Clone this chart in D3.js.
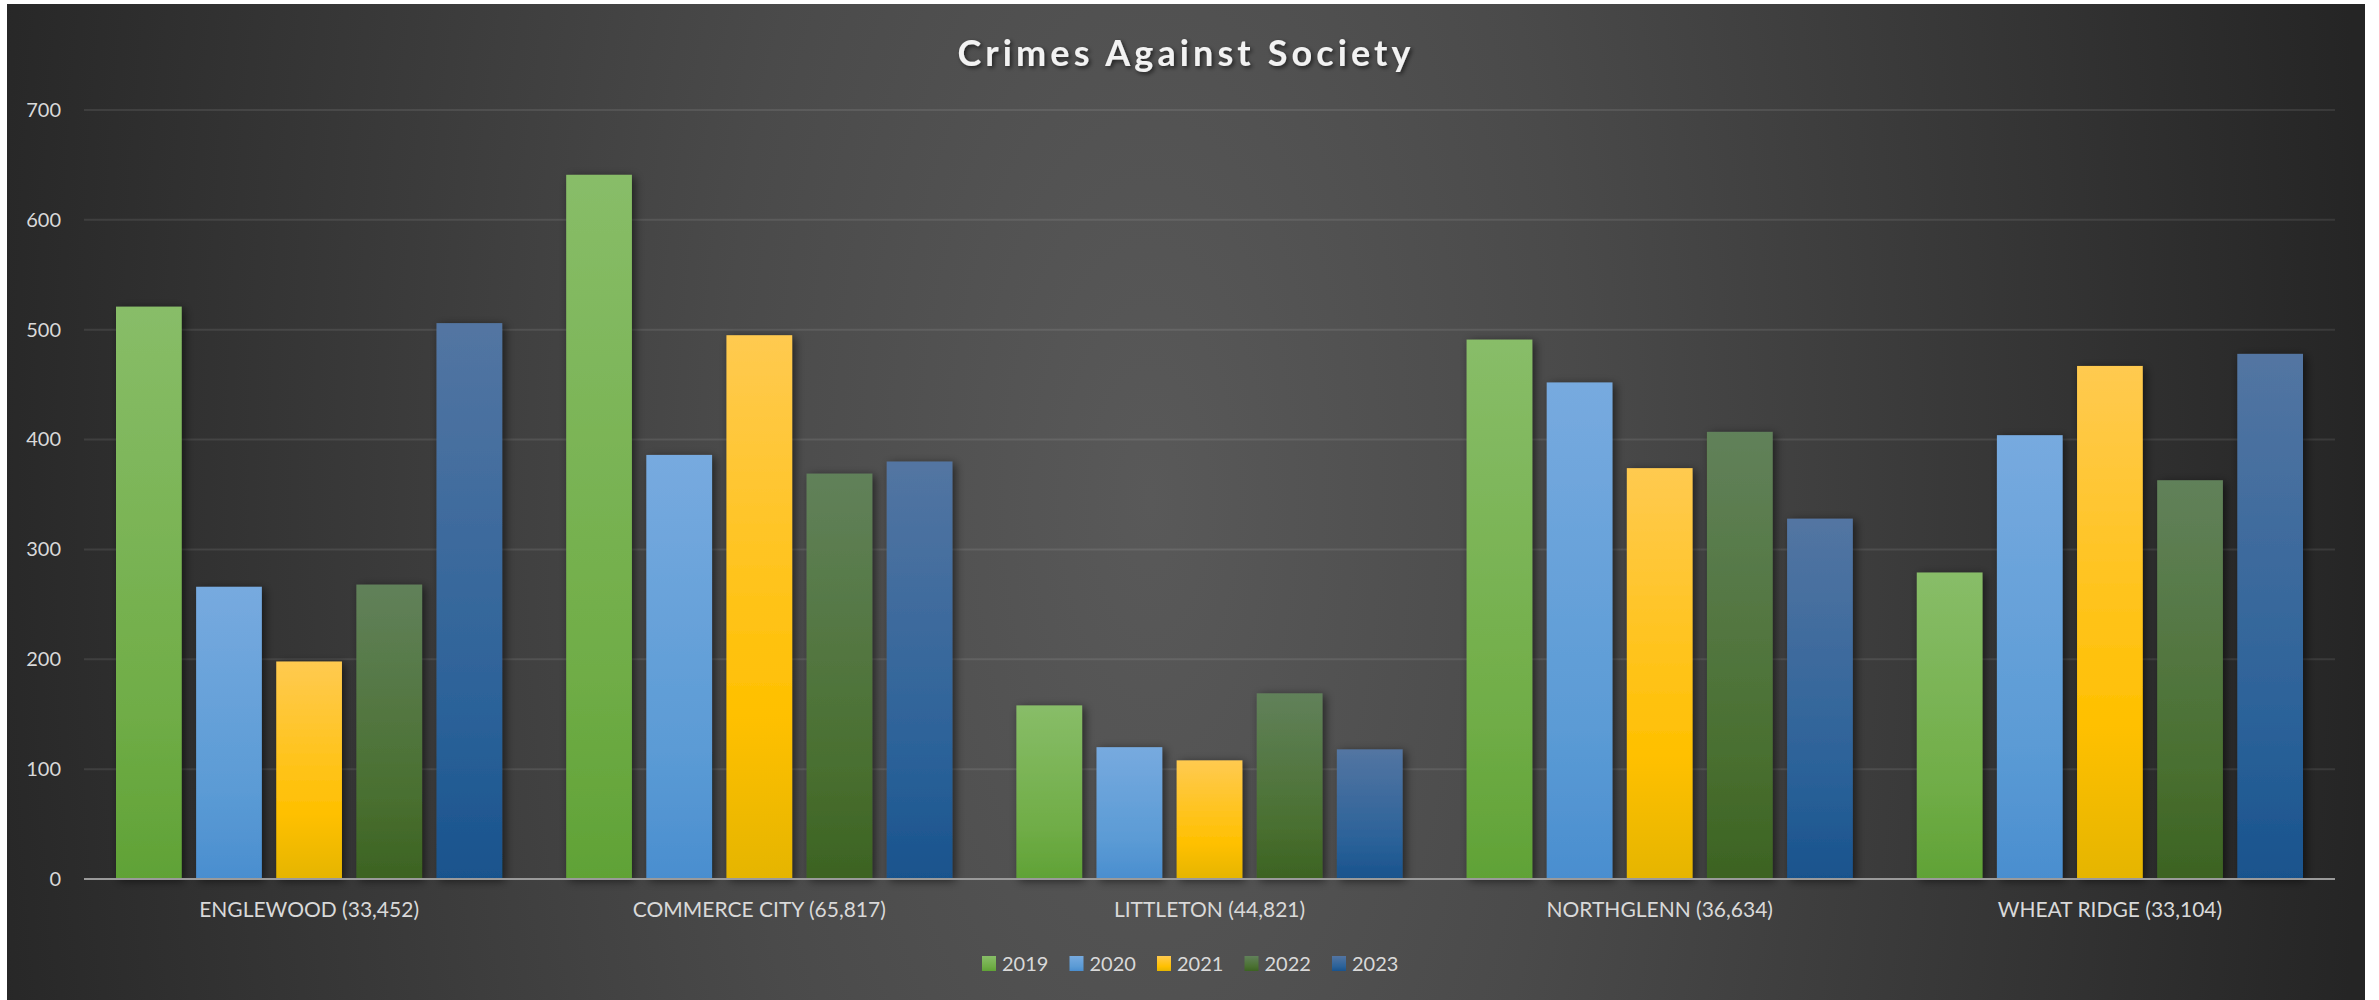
<!DOCTYPE html>
<html>
<head>
<meta charset="utf-8">
<script src="https://cdn.jsdelivr.net/npm/d3@7"></script>
<style>
  html, body { margin: 0; padding: 0; background: #ffffff; }
  svg { display: block; }
  text { font-family: Lato, "Open Sans", sans-serif; }
</style>
</head>
<body>
<svg id="chart" width="2379" height="1000"></svg>
<script>
// Cities with population, reported yearly counts
const categories = [
  "ENGLEWOOD (33,452)",
  "COMMERCE CITY (65,817)",
  "LITTLETON (44,821)",
  "NORTHGLENN (36,634)",
  "WHEAT RIDGE (33,104)"
];
const years = ["2019", "2020", "2021", "2022", "2023"];
const values2019 = [521, 641, 158, 491, 279];
const values2020 = [266, 386, 120, 452, 404];
const values2021 = [198, 495, 108, 374, 467];
const values2022 = [268, 369, 169, 407, 363];
const values2023 = [506, 380, 118, 328, 478];
const yTicks = [0, 100, 200, 300, 400, 500, 600, 700];
const titleText = "Crimes Against Society";

const seriesValues = [values2019, values2020, values2021, values2022, values2023];

// top / middle / bottom gradient stops per year
const seriesColors = [
  ["#88bd68", "#70ad47", "#60a236"],
  ["#77aadf", "#5b9bd5", "#4a8ecf"],
  ["#ffca50", "#ffc000", "#e5b500"],
  ["#61815a", "#4a7031", "#3c6322"],
  ["#5375a2", "#2b6299", "#19538d"]
];

const svg = d3.select("#chart");
const defs = svg.append("defs");

// chart panel background
const bg = defs.append("radialGradient")
  .attr("id", "bgGrad")
  .attr("gradientUnits", "userSpaceOnUse")
  .attr("cx", 1150).attr("cy", 500).attr("r", 1220)
  .attr("gradientTransform", "translate(1150,500) scale(1,2.2) translate(-1150,-500)");
bg.append("stop").attr("offset", 0).attr("stop-color", "#595959");
bg.append("stop").attr("offset", 0.35).attr("stop-color", "#4a4a4a");
bg.append("stop").attr("offset", 1).attr("stop-color", "#252525");

seriesColors.forEach((c, i) => {
  const g = defs.append("linearGradient")
    .attr("id", "bar" + i)
    .attr("x1", 0).attr("y1", 0).attr("x2", 0).attr("y2", 1);
  g.append("stop").attr("offset", 0).attr("stop-color", c[0]);
  g.append("stop").attr("offset", 0.7).attr("stop-color", c[1]);
  g.append("stop").attr("offset", 1).attr("stop-color", c[2]);
});

const shadow = defs.append("filter").attr("id", "barShadow")
  .attr("x", "-30%").attr("y", "-10%").attr("width", "160%").attr("height", "120%");
shadow.append("feDropShadow")
  .attr("dx", 3).attr("dy", 2).attr("stdDeviation", 5)
  .attr("flood-color", "#000").attr("flood-opacity", 0.55);

const titleShadow = defs.append("filter").attr("id", "titleShadow")
  .attr("x", "-10%").attr("y", "-30%").attr("width", "120%").attr("height", "160%");
titleShadow.append("feDropShadow")
  .attr("dx", 2).attr("dy", 2).attr("stdDeviation", 2)
  .attr("flood-color", "#000").attr("flood-opacity", 0.6);

svg.append("rect")
  .attr("x", 7).attr("y", 4).attr("width", 2358).attr("height", 996)
  .attr("fill", "url(#bgGrad)");

const plot = { left: 84, right: 2335, top: 110, bottom: 879 };

const x0 = d3.scaleBand().domain(categories).range([plot.left, plot.right]).padding(0);
const x1 = d3.scaleBand().domain(years)
  .range([32, x0.bandwidth() - 32])
  .paddingInner(0.18).paddingOuter(0);
const y = d3.scaleLinear().domain([0, 700]).range([plot.bottom, plot.top]);

// gridlines
svg.append("g").selectAll("line")
  .data(yTicks.filter(t => t > 0))
  .join("line")
  .attr("x1", plot.left).attr("x2", plot.right)
  .attr("y1", d => y(d)).attr("y2", d => y(d))
  .attr("stroke", "rgba(255,255,255,0.09)")
  .attr("stroke-width", 2);

// y axis labels
const yAxis = d3.axisLeft(y).tickValues(yTicks).tickSize(0).tickPadding(0);
const yG = svg.append("g").attr("transform", `translate(${plot.left - 23},0)`).call(yAxis);
yG.select(".domain").remove();
yG.selectAll("text")
  .attr("fill", "#d9d9d9")
  .style("font-size", "20px")
  .style("font-family", "Lato, 'Open Sans', sans-serif");

// bars
const groups = svg.append("g").selectAll("g")
  .data(categories)
  .join("g")
  .attr("transform", d => `translate(${x0(d)},0)`);

groups.selectAll("rect")
  .data((d, ci) => years.map((yr, si) => ({ yr, si, v: seriesValues[si][ci] })))
  .join("rect")
  .attr("x", d => x1(d.yr))
  .attr("width", x1.bandwidth())
  .attr("y", d => y(d.v))
  .attr("height", d => y(0) - y(d.v))
  .attr("fill", d => `url(#bar${d.si})`)
  .attr("filter", "url(#barShadow)");

// x axis line
svg.append("line")
  .attr("x1", plot.left).attr("x2", plot.right)
  .attr("y1", y(0)).attr("y2", y(0))
  .attr("stroke", "#9a9a9a").attr("stroke-width", 2);

// category labels
const xAxis = d3.axisBottom(x0).tickSize(0).tickPadding(0);
const xG = svg.append("g").attr("transform", `translate(0,${y(0) + 23})`).call(xAxis);
xG.select(".domain").remove();
xG.selectAll("text")
  .attr("fill", "#d9d9d9")
  .attr("dy", "0.72em")
  .style("font-size", "21px")
  .style("font-family", "Lato, 'Open Sans', sans-serif");

// title
svg.append("text")
  .attr("x", 1184).attr("y", 66)
  .attr("text-anchor", "middle")
  .attr("fill", "#f2f2f2")
  .attr("font-weight", "bold")
  .attr("textLength", 453)
  .attr("lengthAdjust", "spacing")
  .attr("filter", "url(#titleShadow)")
  .style("font-size", "36px")
  .text(titleText);

// legend
const legend = svg.append("g").attr("transform", "translate(982,956)");
const li = legend.selectAll("g")
  .data(years)
  .join("g")
  .attr("transform", (d, i) => `translate(${i * 87.5},0)`);
li.append("rect")
  .attr("width", 14).attr("height", 15)
  .attr("fill", (d, i) => `url(#bar${i})`);
li.append("text")
  .attr("x", 20).attr("y", 7.5)
  .attr("dy", "0.36em")
  .attr("fill", "#d9d9d9")
  .style("font-size", "20px")
  .text(d => d);
</script>
</body>
</html>
